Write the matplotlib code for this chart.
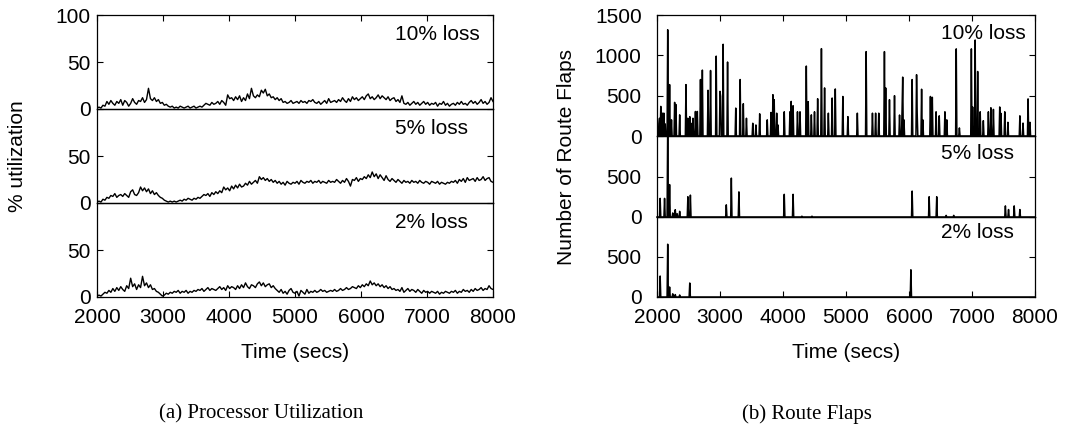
import numpy as np
import matplotlib
matplotlib.use("Agg")
import matplotlib.pyplot as plt

plt.rcParams['font.family'] = ['Liberation Sans', 'DejaVu Sans']

# ---------------- data ----------------
util_time_start, util_time_step = 2000, 30
util10 = [1, 2, 1, 4, 3, 8, 5, 9, 6, 4,
          8, 6, 10, 4, 9, 7, 3, 6, 11, 7,
          5, 9, 8, 12, 7, 10, 22, 11, 9, 12,
          8, 10, 6, 7, 4, 5, 3, 2, 3, 1,
          2, 1, 3, 2, 1, 2, 3, 1, 2, 3,
          1, 2, 3, 2, 4, 6, 5, 4, 7, 5,
          6, 8, 5, 9, 7, 4, 15, 11, 12, 9,
          13, 10, 14, 8, 12, 9, 16, 11, 22, 14,
          12, 15, 13, 20, 17, 21, 14, 16, 12, 13,
          10, 12, 9, 11, 7, 8, 6, 7, 9, 6,
          7, 8, 6, 9, 7, 8, 6, 9, 8, 10,
          7, 6, 8, 5, 7, 9, 6, 11, 7, 8,
          9, 7, 10, 8, 12, 9, 7, 11, 8, 13,
          10, 12, 9, 11, 13, 10, 14, 16, 11, 13,
          10, 12, 15, 11, 14, 12, 10, 13, 9, 11,
          12, 8, 10, 7, 14, 6, 5, 7, 4, 6,
          8, 5, 7, 4, 6, 8, 5, 7, 4, 6,
          5, 7, 3, 6, 5, 8, 4, 6, 3, 5,
          6, 4, 7, 5, 8, 5, 6, 4, 7, 9,
          6, 8, 5, 7, 10, 6, 8, 5, 7, 12,
          8]
util5 = [1, 2, 1, 4, 3, 6, 5, 8, 7, 10,
         6, 8, 9, 7, 10, 8, 6, 12, 14, 9,
         8, 11, 17, 13, 16, 12, 15, 10, 13, 9,
         11, 8, 6, 5, 3, 2, 1, 2, 1, 2,
         1, 2, 3, 2, 4, 3, 5, 4, 3, 5,
         4, 6, 5, 7, 9, 8, 10, 7, 11, 9,
         12, 10, 13, 11, 17, 14, 16, 13, 18, 15,
         19, 16, 20, 17, 18, 21, 19, 23, 20, 22,
         24, 21, 28, 25, 27, 24, 26, 23, 25, 22,
         24, 21, 23, 20, 22, 19, 23, 21, 20, 22,
         21, 23, 20, 24, 22, 21, 23, 22, 24, 21,
         23, 22, 24, 21, 23, 22, 21, 24, 22, 23,
         22, 25, 23, 21, 24, 22, 26, 23, 18, 25,
         24, 27, 23, 26, 25, 28, 26, 30, 27, 33,
         28, 31, 26, 30, 27, 24, 29, 25, 23, 26,
         24, 22, 25, 23, 21, 24, 22, 23, 21, 24,
         22, 23, 21, 24, 22, 21, 23, 22, 20, 23,
         22, 21, 23, 20, 22, 21, 20, 22, 21, 23,
         22, 24, 21, 25, 23, 26, 22, 27, 24, 25,
         26, 23, 27, 24, 25, 28, 24, 26, 27, 23,
         22]
util2 = [1, 2, 1, 3, 5, 4, 7, 5, 9, 6,
         10, 7, 11, 8, 6, 12, 9, 20, 11, 14,
         8, 13, 10, 22, 12, 15, 10, 13, 8, 9,
         6, 5, 3, 1, 2, 4, 3, 5, 4, 6,
         5, 7, 4, 6, 5, 7, 4, 6, 5, 7,
         6, 8, 7, 9, 6, 8, 10, 7, 9, 8,
         7, 9, 11, 8, 10, 7, 12, 9, 11, 10,
         8, 12, 9, 13, 10, 15, 11, 9, 13, 12,
         10, 14, 16, 12, 15, 11, 13, 14, 10, 12,
         9, 7, 5, 8, 4, 6, 3, 7, 9, 5,
         4, 6, 1, 7, 5, 3, 8, 4, 6, 5,
         7, 5, 6, 8, 6, 7, 5, 6, 7, 6,
         8, 6, 7, 9, 7, 8, 10, 8, 9, 11,
         10, 9, 12, 10, 13, 11, 14, 12, 17, 13,
         15, 12, 14, 11, 13, 10, 12, 9, 11, 8,
         9, 7, 8, 6, 10, 5, 7, 9, 6, 8,
         7, 5, 8, 6, 4, 7, 5, 6, 4, 6,
         5, 4, 6, 3, 5, 4, 6, 5, 4, 6,
         5, 7, 4, 6, 5, 8, 6, 7, 5, 8,
         6, 9, 7, 8, 10, 7, 9, 8, 12, 9,
         8]

# route flaps: spike times (secs) and counts; zero elsewhere
flap_step = 10
flap10_t = [2030, 2040, 2060, 2070, 2090, 2110, 2130, 2170, 2200, 2230, 2280, 2300,
            2360, 2460, 2490, 2520, 2540, 2570, 2610, 2640, 2690, 2720, 2810, 2850,
            2940, 3000, 3010, 3050, 3120, 3250, 3320, 3370, 3420, 3520, 3570, 3630,
            3750, 3810, 3840, 3860, 3900, 3920, 4020, 4110, 4130, 4160, 4230, 4270,
            4370, 4400, 4450, 4500, 4550, 4610, 4660, 4720, 4780, 4830, 4950, 5030,
            5180, 5320, 5420, 5470, 5520, 5610, 5630, 5690, 5770, 5850, 5890, 5900,
            5920, 6050, 6120, 6130, 6200, 6220, 6340, 6370, 6430, 6480, 6570, 6600,
            6750, 6800, 6990, 7010, 7050, 7090, 7130, 7180, 7260, 7300, 7340, 7440,
            7460, 7520, 7570, 7760, 7810, 7890, 7920]
flap10_v = [150, 220, 367, 200, 283, 283, 150, 1317, 637, 200, 417, 390,
            262, 637, 220, 240, 158, 220, 304, 304, 700, 817, 567, 812,
            990, 554, 492, 1137, 917, 346, 700, 400, 220, 158, 137, 275,
            200, 292, 512, 450, 283, 137, 300, 300, 429, 375, 300, 300,
            867, 425, 262, 300, 462, 1083, 596, 283, 471, 583, 490, 240,
            283, 1046, 283, 283, 283, 1046, 596, 450, 500, 260, 320, 730,
            200, 700, 760, 280, 580, 200, 490, 480, 300, 250, 300, 200,
            1080, 100, 1080, 360, 1190, 800, 300, 190, 300, 350, 330, 360,
            280, 300, 170, 250, 160, 460, 170]
flap5_t = [2050, 2120, 2170, 2200, 2250, 2290, 2320, 2360, 2490, 2530,
           3100, 3180, 3300, 4020, 4160, 4300, 4460, 6050, 6320, 6440,
           6590, 6710, 7530, 7580, 7670, 7760]
flap5_v = [230, 230, 1150, 400, 50, 90, 40, 70, 250, 270,
           150, 480, 310, 280, 280, 10, 10, 320, 250, 250,
           20, 20, 137, 92, 137, 92]
flap2_t = [2050, 2170, 2200, 2250, 2290, 2360, 2520, 6030]
flap2_v = [262, 660, 125, 40, 30, 25, 175, 340]

labels = ["10% loss", "5% loss", "2% loss"]
xticks = [2000, 3000, 4000, 5000, 6000, 7000, 8000]


def flap_series(times, values):
    grid = np.arange(2000, 8001, flap_step)
    y = np.zeros(len(grid))
    for t, v in zip(times, values):
        y[int(round((t - 2000) / flap_step))] = v
    return grid, y


# ---------------- figure ----------------
W, H = 1070, 428
fig = plt.figure(figsize=(W / 100, H / 100), dpi=100)


def px_axes(x0, x1, ytop, ybot):
    return fig.add_axes([x0 / W, 1 - ybot / H, (x1 - x0) / W, (ybot - ytop) / H],
                        facecolor='none')


FS = 15


def style(ax, position, yticks, ylim, pad):
    ax.set_xlim(2000, 8000)
    ax.set_ylim(*ylim)
    ax.set_yticks(yticks)
    ax.set_xticks(xticks)
    for s in ax.spines.values():
        s.set_linewidth(0.9)
    ax.tick_params(axis='y', direction='in', left=True, right=True, length=4.5,
                   width=0.8, labelsize=FS, pad=pad)
    if position == 'top':
        ax.tick_params(axis='x', direction='in', top=True, bottom=False,
                       labelbottom=False, length=4.5, width=0.8)
    elif position == 'mid':
        ax.tick_params(axis='x', top=False, bottom=False, labelbottom=False)
    else:
        ax.tick_params(axis='x', direction='in', top=False, bottom=True,
                       labelbottom=True, length=4.5, width=0.8, labelsize=FS, pad=8)


# left panel: processor utilization
lx0, lx1 = 97, 493
lbounds = [(15, 109), (109, 203), (203, 297)]
util_series = [util10, util5, util2]
pos = ['top', 'mid', 'bot']
for i, (yt, yb) in enumerate(lbounds):
    ax = px_axes(lx0, lx1, yt, yb)
    vals = util_series[i]
    t = util_time_start + util_time_step * np.arange(len(vals))
    ax.plot(t, vals, color='black', lw=1.0)
    style(ax, pos[i], [0, 50, 100] if i == 0 else [0, 50], (0, 100), 4.5)
    ax.text(0.753, 0.79, labels[i], transform=ax.transAxes, fontsize=FS,
            ha='left', va='center')

# right panel: route flaps
rx0, rx1 = 657, 1035
rbounds = [(15, 136), (136, 217), (217, 297)]
flap_data = [(flap10_t, flap10_v), (flap5_t, flap5_v), (flap2_t, flap2_v)]
ylims = [(0, 1500), (0, 1000), (0, 1000)]
ytks = [[0, 500, 1000, 1500], [0, 500], [0, 500]]
label_y = [0.851, 0.79, 0.80]
for i, (yt, yb) in enumerate(rbounds):
    ax = px_axes(rx0, rx1, yt, yb)
    g, y = flap_series(*flap_data[i])
    ax.plot(g, y, color='black', lw=1.1, clip_on=(i != 1))
    style(ax, pos[i], ytks[i], ylims[i], 11)
    ax.text(0.751, label_y[i], labels[i], transform=ax.transAxes, fontsize=FS,
            ha='left', va='center')

# axis titles
fig.text(18 / W, 1 - 156 / H, "% utilization", rotation=90, fontsize=FS,
         ha='center', va='center')
fig.text(567 / W, 1 - 157 / H, "Number of Route Flaps", rotation=90, fontsize=FS,
         ha='center', va='center')
fig.text(295 / W, 1 - 353 / H, "Time (secs)", fontsize=FS, ha='center', va='center')
fig.text(846 / W, 1 - 353 / H, "Time (secs)", fontsize=FS, ha='center', va='center')

# captions
fig.text(261 / W, 1 - 414 / H, "(a) Processor Utilization", fontsize=15,
         family='Liberation Serif', ha='center', va='center')
fig.text(807 / W, 1 - 414 / H, "(b) Route Flaps", fontsize=15,
         family='Liberation Serif', ha='center', va='center')

fig.savefig("out.png", dpi=100)
